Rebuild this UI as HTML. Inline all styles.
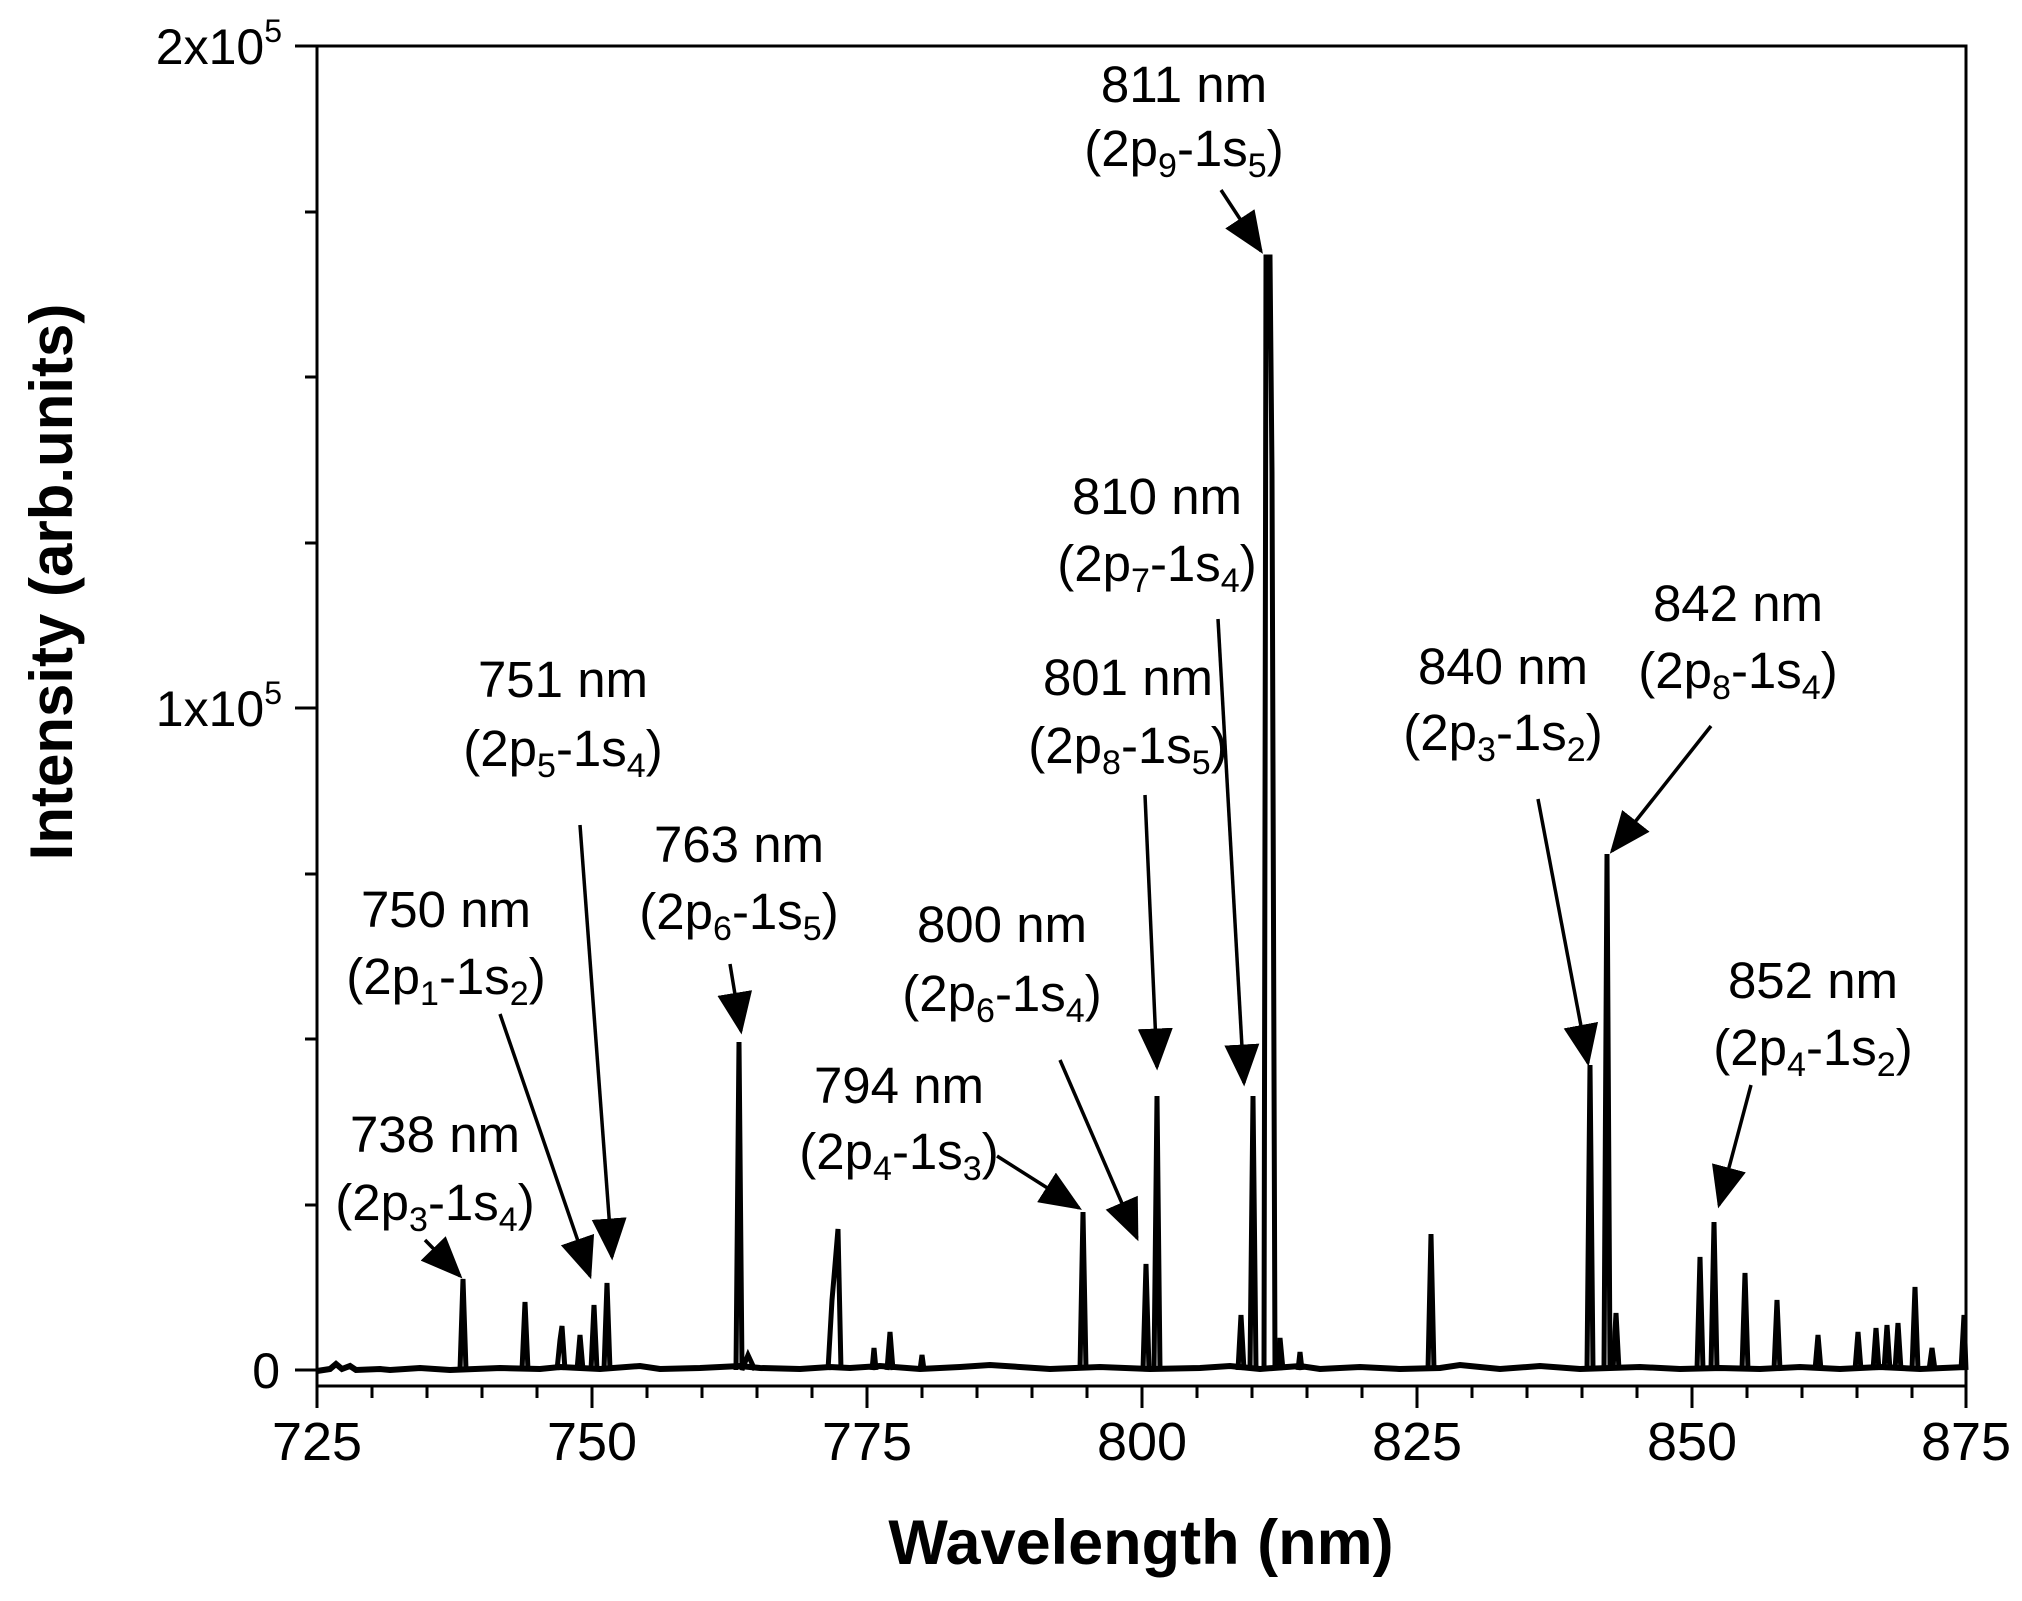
<!DOCTYPE html>
<html><head><meta charset="utf-8"><style>
html,body{margin:0;padding:0;background:#fff}
svg{display:block}
text{font-family:"Liberation Sans",Arial,sans-serif;fill:#000}
</style></head><body>
<svg width="2022" height="1601" viewBox="0 0 2022 1601" xmlns="http://www.w3.org/2000/svg">
<defs>
<marker id="a" viewBox="0 0 12 10" refX="11" refY="5" markerWidth="12" markerHeight="10" orient="auto"><path d="M0,0 L12,5 L0,10 Z" fill="#000"/></marker></defs>
<rect x="317" y="46" width="1649" height="1340" fill="none" stroke="#000" stroke-width="3"/>
<g stroke="#000" stroke-width="3">
<line x1="317" y1="1386" x2="317" y2="1408"/><line x1="592" y1="1386" x2="592" y2="1408"/><line x1="867" y1="1386" x2="867" y2="1408"/><line x1="1142" y1="1386" x2="1142" y2="1408"/><line x1="1417" y1="1386" x2="1417" y2="1408"/><line x1="1692" y1="1386" x2="1692" y2="1408"/><line x1="1966" y1="1386" x2="1966" y2="1408"/>
<line x1="372" y1="1386" x2="372" y2="1398"/><line x1="427" y1="1386" x2="427" y2="1398"/><line x1="482" y1="1386" x2="482" y2="1398"/><line x1="537" y1="1386" x2="537" y2="1398"/>
<line x1="647" y1="1386" x2="647" y2="1398"/><line x1="702" y1="1386" x2="702" y2="1398"/><line x1="757" y1="1386" x2="757" y2="1398"/><line x1="812" y1="1386" x2="812" y2="1398"/>
<line x1="922" y1="1386" x2="922" y2="1398"/><line x1="977" y1="1386" x2="977" y2="1398"/><line x1="1032" y1="1386" x2="1032" y2="1398"/><line x1="1087" y1="1386" x2="1087" y2="1398"/>
<line x1="1197" y1="1386" x2="1197" y2="1398"/><line x1="1252" y1="1386" x2="1252" y2="1398"/><line x1="1307" y1="1386" x2="1307" y2="1398"/><line x1="1362" y1="1386" x2="1362" y2="1398"/>
<line x1="1472" y1="1386" x2="1472" y2="1398"/><line x1="1527" y1="1386" x2="1527" y2="1398"/><line x1="1582" y1="1386" x2="1582" y2="1398"/><line x1="1637" y1="1386" x2="1637" y2="1398"/>
<line x1="1747" y1="1386" x2="1747" y2="1398"/><line x1="1802" y1="1386" x2="1802" y2="1398"/><line x1="1857" y1="1386" x2="1857" y2="1398"/><line x1="1912" y1="1386" x2="1912" y2="1398"/>
<line x1="295" y1="46" x2="317" y2="46"/><line x1="295" y1="708" x2="317" y2="708"/><line x1="295" y1="1370" x2="317" y2="1370"/>
<line x1="305" y1="212" x2="317" y2="212"/><line x1="305" y1="377" x2="317" y2="377"/><line x1="305" y1="543" x2="317" y2="543"/><line x1="305" y1="874" x2="317" y2="874"/><line x1="305" y1="1039" x2="317" y2="1039"/><line x1="305" y1="1205" x2="317" y2="1205"/>
</g>
<g font-size="54" text-anchor="middle">
<text x="317" y="1460">725</text><text x="592" y="1460">750</text><text x="867" y="1460">775</text><text x="1142" y="1460">800</text><text x="1417" y="1460">825</text><text x="1692" y="1460">850</text><text x="1966" y="1460">875</text>
</g>
<g font-size="50" text-anchor="end">
<text x="282" y="64">2x10<tspan font-size="32" dy="-22">5</tspan></text>
<text x="282" y="726">1x10<tspan font-size="32" dy="-22">5</tspan></text>
<text x="280" y="1388">0</text>
</g>
<text x="1141" y="1564" font-size="63" font-weight="bold" text-anchor="middle">Wavelength (nm)</text>
<text transform="translate(72,582) rotate(-90)" font-size="60" font-weight="bold" text-anchor="middle">Intensity (arb.units)</text>
<path d="M317,1371 L330,1369 336,1364 342,1369 350,1366 356,1370 380,1369 390,1370 420,1368 450,1370 500,1368 540,1369 560,1367 600,1369 640,1366 660,1369 700,1368 740,1366 760,1368 800,1369 830,1367 850,1368 880,1366 920,1369 960,1367 990,1365 1050,1369 1100,1367 1150,1369 1200,1368 1230,1366 1260,1369 1300,1366 1320,1369 1360,1367 1400,1369 1440,1368 1460,1365 1500,1369 1540,1366 1580,1369 1640,1367 1680,1369 1720,1368 1760,1369 1800,1367 1840,1369 1880,1367 1920,1369 1966,1367" fill="none" stroke="#000" stroke-width="6"/>
<g fill="none" stroke="#000" stroke-width="5" stroke-linejoin="miter">
<path d="M460,1370 L463,1279 L466,1370"/>
<path d="M522,1370 L525,1302 L528,1370"/>
<path d="M557,1370 L560,1340 L562,1326 L565,1370"/>
<path d="M577,1370 L580,1335 L583,1370"/>
<path d="M591,1370 L594,1305 L597,1370"/>
<path d="M604,1370 L607,1283 L610,1370"/>
<path d="M736,1370 L739,1042 L742,1370 L748,1355 L755,1370"/>
<path d="M828,1370 L832,1300 L834,1277 L838,1229 L841,1370"/>
<path d="M872,1370 L874,1348 L876,1370"/>
<path d="M887,1370 L890,1332 L893,1370"/>
<path d="M920,1370 L922,1355 L924,1370"/>
<path d="M1080,1370 L1083,1212 L1086,1370"/>
<path d="M1143,1370 L1146,1264 L1149,1370"/>
<path d="M1154,1370 L1157,1096 L1160,1370"/>
<path d="M1238,1370 L1241,1315 L1244,1370"/>
<path d="M1250,1370 L1253,1096 L1256,1370"/>
<path d="M1264,1370 L1266,257 L1270,257 L1272,473 L1275,1370"/>
<path d="M1277,1370 L1280,1338 L1283,1370"/>
<path d="M1298,1370 L1300,1352 L1302,1370"/>
<path d="M1428,1370 L1431,1234 L1434,1370"/>
<path d="M1587,1370 L1590,1065 L1593,1370"/>
<path d="M1604,1370 L1607,854 L1610,1370"/>
<path d="M1613,1370 L1616,1313 L1619,1370"/>
<path d="M1697,1370 L1700,1257 L1703,1370"/>
<path d="M1711,1370 L1714,1222 L1717,1370"/>
<path d="M1742,1370 L1745,1273 L1748,1370"/>
<path d="M1774,1370 L1777,1300 L1780,1370"/>
<path d="M1815,1370 L1818,1335 L1821,1370"/>
<path d="M1855,1370 L1858,1332 L1861,1370"/>
<path d="M1873,1370 L1876,1328 L1879,1370"/>
<path d="M1884,1370 L1887,1325 L1890,1370"/>
<path d="M1895,1370 L1898,1323 L1901,1370"/>
<path d="M1912,1370 L1915,1287 L1918,1370"/>
<path d="M1929,1370 L1932,1348 L1935,1370"/>
<path d="M1961,1370 L1964,1315 L1966,1370"/>
</g>
<g stroke="#000" stroke-width="3.5" marker-end="url(#a)">
<line x1="1221" y1="190" x2="1261" y2="251"/>
<line x1="1218" y1="619" x2="1244" y2="1083"/>
<line x1="1145" y1="795" x2="1157" y2="1067"/>
<line x1="1711" y1="726" x2="1612" y2="851"/>
<line x1="1538" y1="799" x2="1588" y2="1063"/>
<line x1="580" y1="825" x2="612" y2="1257"/>
<line x1="730" y1="964" x2="741" y2="1031"/>
<line x1="500" y1="1014" x2="590" y2="1276"/>
<line x1="1060" y1="1060" x2="1137" y2="1238"/>
<line x1="997" y1="1156" x2="1079" y2="1208"/>
<line x1="1751" y1="1085" x2="1719" y2="1205"/>
<line x1="425" y1="1240" x2="460" y2="1276"/>
</g>
<g font-size="51" text-anchor="middle">
<text x="1184" y="102">811 nm</text><text x="1184" y="166">(2p<tspan font-size="34" dy="11">9</tspan><tspan dy="-11">-1s</tspan><tspan font-size="34" dy="11">5</tspan><tspan dy="-11">)</tspan></text>
<text x="1157" y="514">810 nm</text><text x="1157" y="581">(2p<tspan font-size="34" dy="11">7</tspan><tspan dy="-11">-1s</tspan><tspan font-size="34" dy="11">4</tspan><tspan dy="-11">)</tspan></text>
<text x="1128" y="695">801 nm</text><text x="1128" y="763">(2p<tspan font-size="34" dy="11">8</tspan><tspan dy="-11">-1s</tspan><tspan font-size="34" dy="11">5</tspan><tspan dy="-11">)</tspan></text>
<text x="1738" y="621">842 nm</text><text x="1738" y="688">(2p<tspan font-size="34" dy="11">8</tspan><tspan dy="-11">-1s</tspan><tspan font-size="34" dy="11">4</tspan><tspan dy="-11">)</tspan></text>
<text x="1503" y="684">840 nm</text><text x="1503" y="750">(2p<tspan font-size="34" dy="11">3</tspan><tspan dy="-11">-1s</tspan><tspan font-size="34" dy="11">2</tspan><tspan dy="-11">)</tspan></text>
<text x="563" y="697">751 nm</text><text x="563" y="766">(2p<tspan font-size="34" dy="11">5</tspan><tspan dy="-11">-1s</tspan><tspan font-size="34" dy="11">4</tspan><tspan dy="-11">)</tspan></text>
<text x="739" y="862">763 nm</text><text x="739" y="929">(2p<tspan font-size="34" dy="11">6</tspan><tspan dy="-11">-1s</tspan><tspan font-size="34" dy="11">5</tspan><tspan dy="-11">)</tspan></text>
<text x="446" y="927">750 nm</text><text x="446" y="994">(2p<tspan font-size="34" dy="11">1</tspan><tspan dy="-11">-1s</tspan><tspan font-size="34" dy="11">2</tspan><tspan dy="-11">)</tspan></text>
<text x="1002" y="942">800 nm</text><text x="1002" y="1011">(2p<tspan font-size="34" dy="11">6</tspan><tspan dy="-11">-1s</tspan><tspan font-size="34" dy="11">4</tspan><tspan dy="-11">)</tspan></text>
<text x="899" y="1103">794 nm</text><text x="899" y="1169">(2p<tspan font-size="34" dy="11">4</tspan><tspan dy="-11">-1s</tspan><tspan font-size="34" dy="11">3</tspan><tspan dy="-11">)</tspan></text>
<text x="1813" y="998">852 nm</text><text x="1813" y="1065">(2p<tspan font-size="34" dy="11">4</tspan><tspan dy="-11">-1s</tspan><tspan font-size="34" dy="11">2</tspan><tspan dy="-11">)</tspan></text>
<text x="435" y="1152">738 nm</text><text x="435" y="1220">(2p<tspan font-size="34" dy="11">3</tspan><tspan dy="-11">-1s</tspan><tspan font-size="34" dy="11">4</tspan><tspan dy="-11">)</tspan></text>
</g>
</svg>
</body></html>
